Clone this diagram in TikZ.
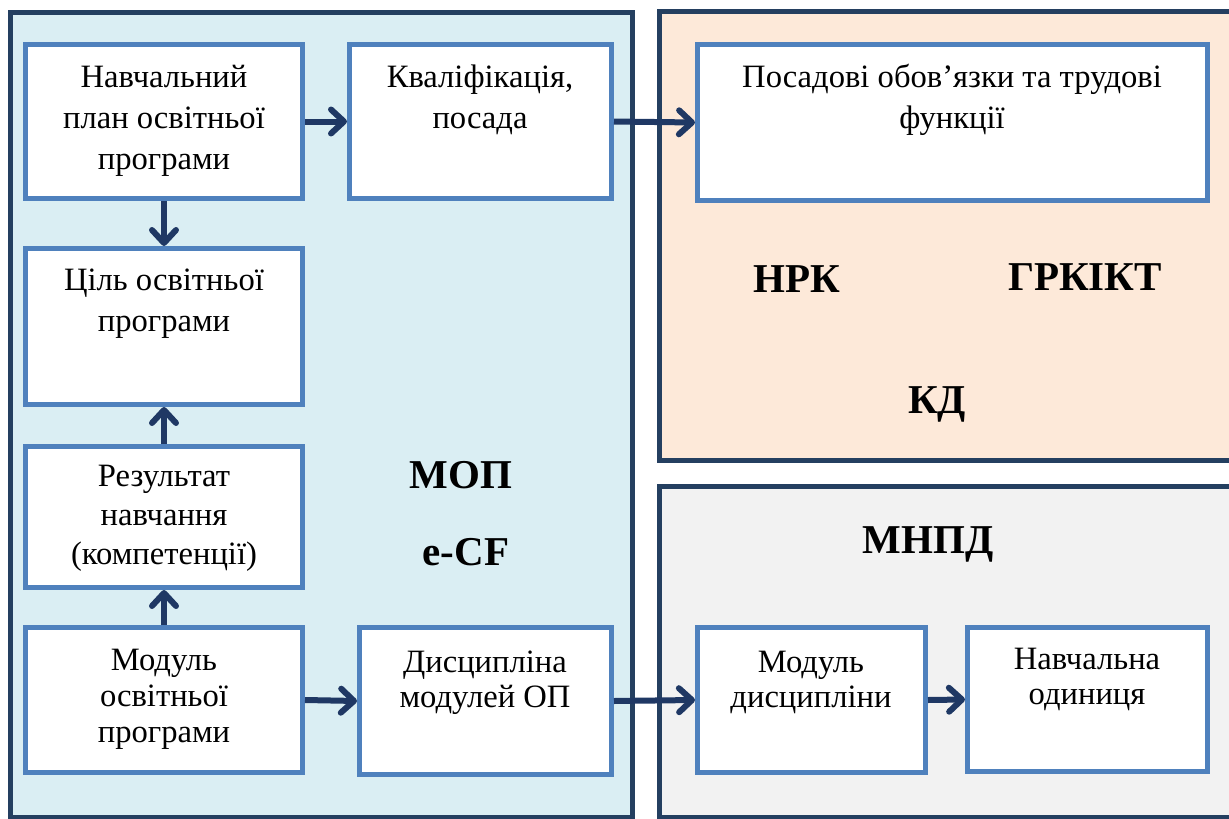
\documentclass[tikz,border=0pt]{standalone}
\usepackage{fontspec}
\setmainfont{Liberation Serif}
\usetikzlibrary{arrows.meta}
\definecolor{panelblue}{HTML}{DAEEF3}
\definecolor{panelpeach}{HTML}{FDE9D9}
\definecolor{panelgray}{HTML}{F2F2F2}
\definecolor{paneledge}{HTML}{243F60}
\definecolor{boxedge}{HTML}{4F81BD}
\definecolor{arrowcol}{HTML}{1F3864}
\begin{document}
\begin{tikzpicture}[x=1pt,y=-1pt,
  panel/.style={draw=paneledge, line width=5pt},
  box/.style={draw=boxedge, line width=5pt, fill=white, inner sep=0pt, anchor=center},
  txt/.style={anchor=north, inner sep=0pt, align=center, font=\fontsize{32.6}{#1}\selectfont},
  txt/.default=41,
  tag/.style={anchor=base, inner sep=0pt, font=\fontsize{41}{49}\selectfont\bfseries},
  link/.style={draw=arrowcol, line width=6pt, -{Straight Barb[length=13pt,width=24pt,round]}}]
\clip (0,0) rectangle (1229,819);

% three areas
\path[panel, fill=panelblue]  (10.5,12.5) rectangle (632.5,817);
\path[panel, fill=panelpeach] (659.5,11.5) rectangle (1245,460);
\path[panel, fill=panelgray]  (659.5,486) rectangle (1245,817);

% boxes
\node[box, minimum width=277pt, minimum height=154pt] (plan)   at (164,121.5) {};
\node[box, minimum width=262pt, minimum height=154pt] (qual)   at (480.5,121.5) {};
\node[box, minimum width=509.5pt, minimum height=156pt] (duty) at (952.25,122.5) {};
\node[box, minimum width=277pt, minimum height=156pt] (goal)   at (164,326.5) {};
\node[box, minimum width=277pt, minimum height=141pt] (result) at (164,517) {};
\node[box, minimum width=277pt, minimum height=145pt] (module) at (164,700) {};
\node[box, minimum width=252pt, minimum height=147pt] (disc)   at (485.5,701) {};
\node[box, minimum width=228pt, minimum height=145pt] (dmod)   at (811.5,700) {};
\node[box, minimum width=240pt, minimum height=144pt] (unit)   at (1087.5,699.5) {};

% box texts (first baseline 30pt below the node top)
\node[txt] (plant)   at (164,57)  {\rule{0pt}{30pt}Навчальний\\план освітньої\\програми};
\node[txt] (qualt)   at (480,57)  {\rule{0pt}{30pt}Кваліфікація,\\посада};
\node[txt] (dutyt)   at (952,57)  {\rule{0pt}{30pt}Посадові обов’язки та трудові\\функції};
\node[txt] (goalt)   at (164,260) {\rule{0pt}{30pt}Ціль освітньої\\програми};
\node[txt=39] (resultt) at (164,456) {\rule{0pt}{30pt}Результат\\навчання\\(компетенції)};
\node[txt=36] (modulet) at (164,640) {\rule{0pt}{30pt}Модуль\\освітньої\\програми};
\node[txt=35] (disct)   at (485,642) {\rule{0pt}{30pt}Дисципліна\\модулей ОП};
\node[txt=35] (dmodt)   at (811,642) {\rule{0pt}{30pt}Модуль\\дисципліни};
\node[txt=35] (unitt)   at (1087,639) {\rule{0pt}{30pt}Навчальна\\одиниця};

% bold tags
\node[tag] (nrk)   at (797,292)  {НРК};
\node[tag] (grk)   at (1085,290) {ГРКІКТ};
\node[tag] (kd)    at (937,413)  {КД};
\node[tag] (mop)   at (461,488)  {МОП};
\node[tag] (ecf)   at (466,565)  {e-CF};
\node[tag] (mnpd)  at (928,553)  {МНПД};

% connectors
\draw[link] (plan.east) -- (qual.west);
\draw[link] (qual.east) -- (duty.west);
\draw[link] (plan.south) -- (goal.north);
\draw[link] (result.north) -- (goal.south);
\draw[link] (module.north) -- (result.south);
\draw[link] (module.east) -- (disc.west);
\draw[link] (disc.east) -- (dmod.west);
\draw[link] (dmod.east) -- (unit.west);
\end{tikzpicture}
\end{document}
